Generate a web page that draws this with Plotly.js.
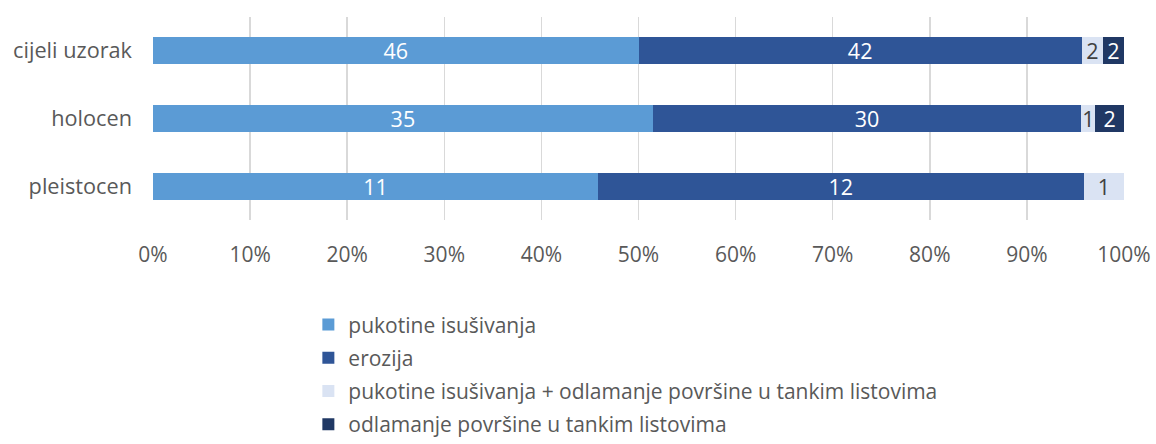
<!DOCTYPE html>
<html><head><meta charset="utf-8">
<script src="https://cdn.plot.ly/plotly-3.0.1.min.js"></script>
<style>body{margin:0;background:#fff}#c{width:1156px;height:444px}</style>
</head><body><div id="c"></div>
<script>
const categories = ['cijeli uzorak', 'holocen', 'pleistocen'];
const seriesNames = ['pukotine isušivanja', 'erozija', 'pukotine isušivanja + odlamanje površine u tankim listovima', 'odlamanje površine u tankim listovima'];
const pukotine = [46, 35, 11];
const erozija = [42, 30, 12];
const pukotineOdlamanje = [2, 1, 1];
const odlamanje = [2, 2, 0];
const tickVals = [0, 10, 20, 30, 40, 50, 60, 70, 80, 90, 100];
const tickText = ['0%', '10%', '20%', '30%', '40%', '50%', '60%', '70%', '80%', '90%', '100%'];

const colors = ['#5b9bd5', '#2f5597', '#dae3f3', '#203864'];
const textColors = ['#ffffff', '#ffffff', '#404040', '#ffffff'];
const series = [pukotine, erozija, pukotineOdlamanje, odlamanje];
const FONT = 'Open Sans, sans-serif';

const traces = series.map((vals, i) => ({
  type: 'bar', orientation: 'h',
  name: seriesNames[i], legendgroup: 'g' + i,
  y: categories, x: vals,
  text: vals.map(v => v ? String(v) : ''),
  texttemplate: '%{text}',
  textposition: 'inside', insidetextanchor: 'middle', textangle: 0,
  constraintext: 'none',
  textfont: {family: FONT, size: 21.5, color: textColors[i]},
  marker: {color: colors[i], line: {width: 0}},
  hoverinfo: 'skip'
}));

const layout = {
  width: 1156, height: 444,
  margin: {l: 153, r: 32, t: 17, b: 224, autoexpand: false},
  barmode: 'stack', barnorm: 'percent', bargap: 0.6,
  paper_bgcolor: '#fff', plot_bgcolor: '#fff',
  font: {family: FONT, color: '#595959', size: 21},
  xaxis: {range: [0, 100], tickvals: tickVals, ticktext: tickText,
    showgrid: true, gridcolor: '#d9d9d9', gridwidth: 1.5, zeroline: false,
    showline: false, ticks: '', ticklabelstandoff: 20, fixedrange: true,
    tickfont: {family: FONT, size: 21, color: '#595959'}},
  yaxis: {autorange: 'reversed', showgrid: false, zeroline: false, showline: false,
    ticks: '', ticklabelstandoff: 20, fixedrange: true,
    tickfont: {family: FONT, size: 21.7, color: '#595959'}},
  showlegend: true,
  legend: {orientation: 'v', x: 0.16, xanchor: 'left', y: -0.415, yanchor: 'top',
    traceorder: 'grouped', tracegroupgap: 3, itemwidth: 30,
    font: {family: FONT, size: 21, color: '#595959'}, bgcolor: 'rgba(0,0,0,0)'}
};
Plotly.newPlot('c', traces, layout, {displayModeBar: false, staticPlot: true});
</script></body></html>
